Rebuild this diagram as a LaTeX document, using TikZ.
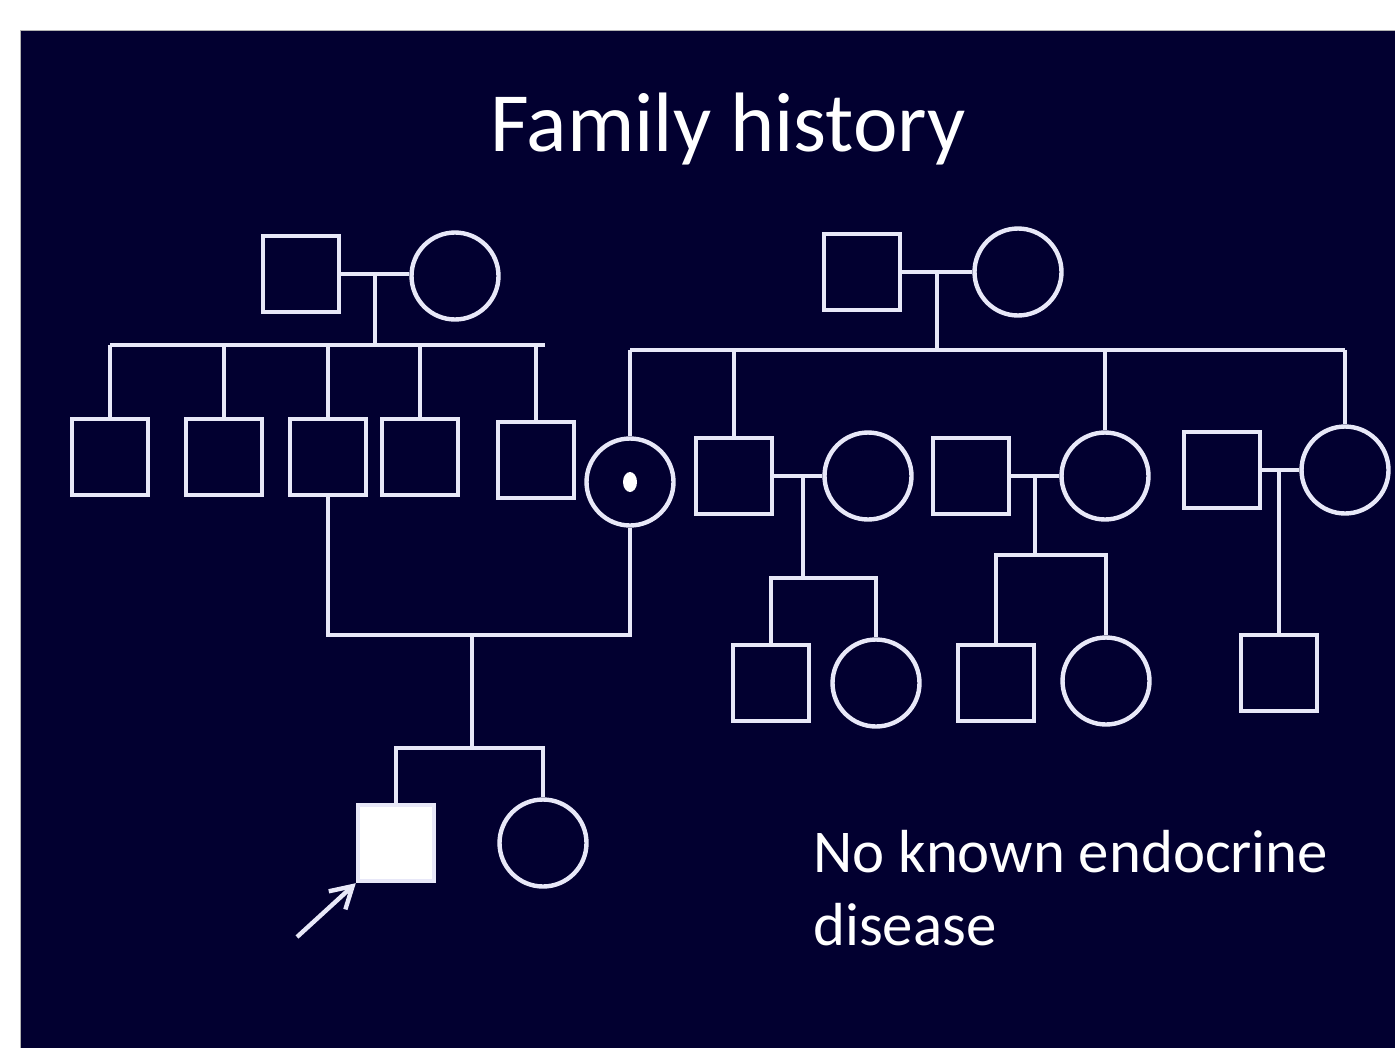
\documentclass[tikz,border=0pt]{standalone}
\usepackage{fontspec}
\setmainfont{Carlito}
\usetikzlibrary{arrows.meta,calc,positioning}
\definecolor{slidebg}{RGB}{2,0,48}
\definecolor{penline}{RGB}{232,232,248}

\begin{document}
\begin{tikzpicture}[x=0.02cm,y=-0.02cm,
    male/.style={draw=penline,line width=2.5pt,minimum size=1.52cm,inner sep=0pt},
    female/.style={draw=penline,line width=2.5pt,circle,minimum size=1.74cm,inner sep=0pt},
    link/.style={draw=penline,line width=2.5pt}]
  % Slide background
  \useasboundingbox (0,0) rectangle (1395,1048);
  \fill[white] (0,0) rectangle (1395,1048);
  \fill[slidebg] (20,30) rectangle (1395,1048);
  \draw[gray!60,line width=0.4pt] (20,1048) -- (20,30) -- (1395,30);
  % Title
  \node[text=white,font=\fontsize{48}{56}\selectfont] (title) at (728,129) {Family history};
  % Paternal grandparents
  \node[male] (lgf) at (301,274) {};
  \node[female] (lgm) at (455,276) {};
  \draw[link] (lgf.east) -- (lgf.east -| lgm.west);
  \coordinate (lgc) at ($(lgf.east)!0.5!(lgf.east -| lgm.west)$);
  \coordinate (lbl) at (110,345);
  \coordinate (lbr) at (545,345);
  \draw[link] (lgc) -- (lgc |- lbl);
  \draw[link] (lbl) -- (lbr);
  % Paternal uncles and father
  \node[male] (lu1) at (110,457) {};
  \node[male] (lu2) at (224,457) {};
  \node[male] (dad) at (328,457) {};
  \node[male] (lu4) at (420,457) {};
  \node[male] (lu5) at (536,460) {};
  \draw[link] (lu1.north) -- (lu1.north |- lbl);
  \draw[link] (lu2.north) -- (lu2.north |- lbl);
  \draw[link] (dad.north) -- (dad.north |- lbl);
  \draw[link] (lu4.north) -- (lu4.north |- lbl);
  \draw[link] (lu5.north) -- (lu5.north |- lbl);
  % Maternal grandparents
  \node[male] (rgf) at (862,272) {};
  \node[female] (rgm) at (1018,272) {};
  \draw[link] (rgf.east) -- (rgm.west);
  \coordinate (rgc) at ($(rgf.east)!0.5!(rgm.west)$);
  \coordinate (rbl) at (630,350);
  \coordinate (rbr) at (1345,350);
  \draw[link] (rgc) -- (rgc |- rbl);
  \draw[link] (rbl) -- (rbr);
  % Mother (carrier) and maternal uncles and aunts
  \node[female] (mom) at (630,482) {};
  \fill[white] (mom.center) ellipse (0.14cm and 0.2cm);
  \node[male] (mu1) at (734,476) {};
  \node[female] (mw1) at (868,476) {};
  \node[male] (mh2) at (971,476) {};
  \node[female] (ma2) at (1105,476) {};
  \node[male] (mh3) at (1222,470) {};
  \node[female] (ma3) at (1345,470) {};
  \draw[link] (mom.north) -- (mom.north |- rbl);
  \draw[link] (mu1.north) -- (mu1.north |- rbl);
  \draw[link] (ma2.north) -- (ma2.north |- rbl);
  \draw[link] (ma3.north) -- (ma3.north |- rbl);
  % Cousins
  \draw[link] (mu1.east) -- (mw1.west);
  \coordinate (mc1) at ($(mu1.east)!0.6!(mw1.west)$);
  \node[male] (cs1) at (771,683) {};
  \node[female] (cs2) at (876,683) {};
  \coordinate (cb1) at (771,578);
  \draw[link] (mc1) -- (mc1 |- cb1);
  \draw[link] (cs1.north) -- (cs1.north |- cb1) -- (cs2.north |- cb1) -- (cs2.north);
  \draw[link] (mh2.east) -- (ma2.west);
  \coordinate (mc2) at ($(mh2.east)!0.5!(ma2.west)$);
  \node[male] (cs3) at (996,683) {};
  \node[female] (cs4) at (1106,681) {};
  \coordinate (cb2) at (996,555);
  \draw[link] (mc2) -- (mc2 |- cb2);
  \draw[link] (cs3.north) -- (cs3.north |- cb2) -- (cs4.north |- cb2) -- (cs4.north);
  \draw[link] (mh3.east) -- (ma3.west);
  \coordinate (mc3) at ($(mh3.east)!0.45!(ma3.west)$);
  \node[male] (cs5) at (1279,673) {};
  \draw[link] (mc3) -- (mc3 |- cs5.north);
  % Parents and their children
  \coordinate (pb) at (472,635);
  \draw[link] (dad.south) -- (dad.south |- pb) -- (mom.south |- pb) -- (mom.south);
  \node[male,fill=white] (pro) at (396,843) {};
  \node[female] (sis) at (543,843) {};
  \coordinate (sb) at (472,748);
  \draw[link] (pb) -- (sb);
  \draw[link] (pro.north) -- (pro.north |- sb) -- (sis.north |- sb) -- (sis.north);
  % Proband arrow
  \coordinate (arrtail) at (297,937);
  \draw[link,-{Straight Barb[length=12pt,width=14pt]}] (arrtail) -- (pro.south west);
  % Note
  \node[text=white,align=left,anchor=north west,inner sep=0pt,
        font=\fontsize{34.6}{41.4}\selectfont] (note) at (813,830) {No known endocrine\\disease};
\end{tikzpicture}
\end{document}
